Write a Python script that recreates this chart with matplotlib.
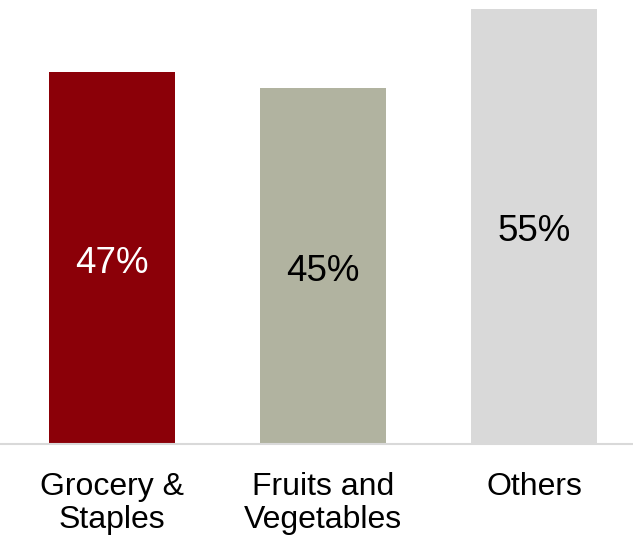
import matplotlib
matplotlib.use("Agg")
import matplotlib.pyplot as plt

# Datos del gráfico
categories = ["Grocery &\nStaples", "Fruits and\nVegetables", "Others"]
values = [47, 45, 55]
labels = ["47%", "45%", "55%"]
bar_colors = ["#8B0008", "#B1B3A0", "#D9D9D9"]
label_colors = ["white", "black", "black"]

plt.rcParams["font.family"] = ["Liberation Sans", "DejaVu Sans"]

fig = plt.figure(figsize=(6.33, 5.37), dpi=100)
ax = fig.add_axes([0, 0.1732, 1, 0.8268])

x = range(len(categories))
ax.bar(x, values, width=0.6, color=bar_colors, zorder=2)

# Etiquetas de porcentaje dentro de las barras
for i, v in enumerate(values):
    ax.text(i, v / 2 - 0.7, labels[i], ha="center", va="center",
            fontsize=26.5, color=label_colors[i])

ax.set_xlim(-0.531, 2.469)
ax.set_ylim(0, 56.1)
ax.set_xticks(list(x))
ax.set_xticklabels(categories, fontsize=23, linespacing=1.12)
ax.tick_params(axis="x", length=0, pad=20)
ax.set_yticks([])

for side in ["top", "right", "left"]:
    ax.spines[side].set_visible(False)
ax.spines["bottom"].set_color("#D9D9D9")
ax.spines["bottom"].set_linewidth(1.5)

fig.savefig("out.png", dpi=100)
